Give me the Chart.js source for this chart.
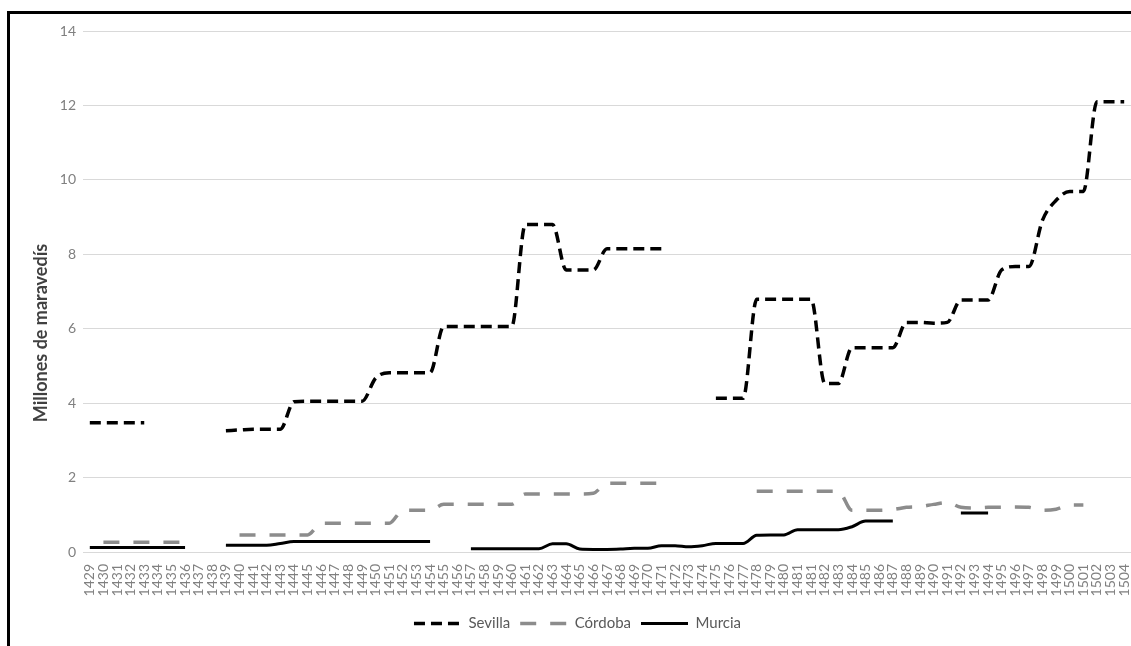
<!DOCTYPE html>
<html>
<head>
<meta charset="utf-8">
<script src="https://cdn.jsdelivr.net/npm/chart.js@4/dist/chart.umd.min.js"></script>
<style>
    html, body { margin: 0; padding: 0; background: #fff; overflow: hidden; }
    #wrap { position: relative; width: 1131px; height: 646px; }
    #frame { position: absolute; left: 7px; top: 11px; right: -10px; bottom: -10px; border-left: 3px solid #000; border-top: 3px solid #000; pointer-events: none; }
    #yTitle { position: absolute; left: 40px; top: 333px; transform: translate(-50%, -50%) rotate(-90deg); white-space: nowrap; font: bold 18px Lato, sans-serif; color: #404040; }
</style>
</head>
<body>
<div id="wrap">
    <canvas id="chart" width="1131" height="646"></canvas>
    <div id="frame"></div>
    <div id="yTitle">Millones de maravedís</div>
</div>
<script>
// note: the source has "1481" twice on the axis, kept as is
const years = [
    "1429", "1430", "1431", "1432", "1433", "1434", "1435", "1436", "1437", "1438",
    "1439", "1440", "1441", "1442", "1443", "1444", "1445", "1446", "1447", "1448",
    "1449", "1450", "1451", "1452", "1453", "1454", "1455", "1456", "1457", "1458",
    "1459", "1460", "1461", "1462", "1463", "1464", "1465", "1466", "1467", "1468",
    "1469", "1470", "1471", "1472", "1473", "1474", "1475", "1476", "1477", "1478",
    "1479", "1480", "1481", "1481", "1482", "1483", "1484", "1485", "1486", "1487",
    "1488", "1489", "1490", "1491", "1492", "1493", "1494", "1495", "1496", "1497",
    "1498", "1499", "1500", "1501", "1502", "1503", "1504"
];

const sevilla = [
    3.47, 3.47, 3.47, 3.47, 3.47, null, null, null, null, null,
    3.26, 3.28, 3.3, 3.3, 3.3, 4.04, 4.05, 4.05, 4.05, 4.05,
    4.05, 4.67, 4.82, 4.82, 4.82, 4.82, 6.06, 6.06, 6.06, 6.06,
    6.06, 6.06, 8.8, 8.8, 8.8, 7.58, 7.58, 7.58, 8.15, 8.15,
    8.15, 8.15, 8.15, null, null, null, 4.13, 4.13, 4.13, 6.79,
    6.79, 6.79, 6.79, 6.79, 4.53, 4.53, 5.49, 5.49, 5.49, 5.49,
    6.17, 6.17, 6.15, 6.17, 6.77, 6.77, 6.77, 7.58, 7.67, 7.67,
    8.92, 9.45, 9.69, 9.69, 12.1, 12.1, 12.1
];

const cordoba = [
    null, 0.26, 0.26, 0.26, 0.26, 0.26, 0.26, 0.26, null, null,
    null, 0.46, 0.46, 0.46, 0.46, 0.46, 0.46, 0.77, 0.77, 0.77,
    0.77, 0.77, 0.77, 1.12, 1.12, 1.12, 1.28, 1.28, 1.28, 1.28,
    1.28, 1.28, 1.56, 1.56, 1.56, 1.56, 1.56, 1.58, 1.85, 1.85,
    1.85, 1.85, 1.85, null, null, null, null, null, null, 1.63,
    1.63, 1.63, 1.63, 1.63, 1.63, 1.63, 1.12, 1.12, 1.12, 1.14,
    1.2, 1.22, 1.28, 1.33, 1.2, 1.18, 1.2, 1.2, 1.21, 1.2,
    1.12, 1.15, 1.26, 1.26, null, null, null
];

const murcia = [
    0.12, 0.12, 0.12, 0.12, 0.12, 0.12, 0.12, 0.12, null, null,
    0.18, 0.18, 0.18, 0.18, 0.23, 0.28, 0.28, 0.28, 0.28, 0.28,
    0.28, 0.28, 0.28, 0.28, 0.28, 0.28, null, null, 0.09, 0.09,
    0.09, 0.09, 0.09, 0.09, 0.22, 0.22, 0.08, 0.07, 0.07, 0.08,
    0.1, 0.1, 0.17, 0.17, 0.14, 0.17, 0.23, 0.23, 0.23, 0.45,
    0.46, 0.46, 0.6, 0.6, 0.6, 0.6, 0.68, 0.83, 0.83, 0.83,
    null, null, null, null, 1.05, 1.05, 1.05, null, null, null,
    null, null, null, null, null, null, null
];

const yTicks = [0, 2, 4, 6, 8, 10, 12, 14];

const tickColor = "#808080";

// the default legend takes the point style, so dash and width are lost
function legendLabels(chart) {
    const items = Chart.defaults.plugins.legend.labels.generateLabels(chart);
    items.forEach((item) => {
        const ds = chart.data.datasets[item.datasetIndex];
        item.lineDash = ds.borderDash || [];
        item.lineWidth = ds.borderWidth;
        item.strokeStyle = ds.borderColor;
    });
    return items;
}

new Chart(document.getElementById("chart").getContext("2d"), {
    type: "line",
    data: {
        labels: years,
        datasets: [
            {
                label: "Sevilla",
                data: sevilla,
                borderColor: "#000000",
                borderWidth: 3.5,
                borderDash: [11, 6],
            },
            {
                label: "Córdoba",
                data: cordoba,
                borderColor: "#8c8c8c",
                borderWidth: 3.5,
                borderDash: [16, 14],
            },
            {
                label: "Murcia",
                data: murcia,
                borderColor: "#000000",
                borderWidth: 3,
            },
        ],
    },
    options: {
        responsive: false,
        animation: false,
        devicePixelRatio: 1,
        cubicInterpolationMode: "monotone",
        elements: {
            point: { radius: 0 },
        },
        layout: {
            padding: { left: 24, right: 0, top: 31, bottom: 5 },
        },
        plugins: {
            tooltip: { enabled: false },
            legend: {
                position: "bottom",
                labels: {
                    usePointStyle: true,
                    pointStyle: "line",
                    pointStyleWidth: 47,
                    padding: 10,
                    color: "#595959",
                    font: { family: "Lato", size: 15 },
                    generateLabels: legendLabels,
                },
            },
        },
        scales: {
            x: {
                offset: true,
                grid: { display: false },
                border: { display: false },
                ticks: {
                    autoSkip: false,
                    minRotation: 90,
                    maxRotation: 90,
                    padding: 4,
                    color: tickColor,
                    font: { family: "Lato", size: 14 },
                },
                afterFit: (scale) => {
                    scale.height = 54;
                    scale.paddingLeft = 0;
                    scale.paddingRight = 0;
                },
            },
            y: {
                min: 0,
                max: 14,
                afterBuildTicks: (scale) => {
                    scale.ticks = yTicks.map((v) => ({ value: v }));
                },
                grid: { color: "#d9d9d9", drawTicks: false },
                border: { display: false },
                ticks: {
                    padding: 7,
                    color: tickColor,
                    font: { family: "Lato", size: 14 },
                },
                afterFit: (scale) => {
                    scale.width = 59;
                },
            },
        },
    },
});
</script>
</body>
</html>
